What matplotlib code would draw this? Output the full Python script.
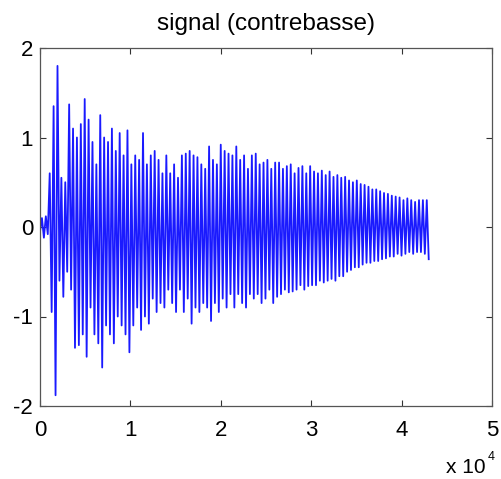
import numpy as np
import matplotlib
matplotlib.use("Agg")
import matplotlib.pyplot as plt

plt.rcParams['font.family'] = ['Liberation Sans', 'DejaVu Sans']

title = "signal (contrebasse)"
sample_step = 215  # samples between successive extrema
amplitude = [
    -0.05, 0.10, -0.12, 0.12, -0.08, 0.60, -0.95, 1.35, -1.88, 1.80,
    -0.60, 0.55, -0.78, 0.50, -0.50, 1.37, -0.70, 1.10, -1.35, 1.00,
    -1.32, 1.15, -1.20, 1.43, -1.45, 1.20, -0.90, 0.95, -1.20, 0.70,
    -1.30, 1.25, -1.57, 1.00, -1.10, 0.95, -1.20, 1.10, -1.30, 0.85,
    -1.00, 1.05, -1.10, 0.80, -1.20, 1.08, -1.40, 0.70, -1.10, 0.80,
    -0.90, 0.75, -1.15, 1.05, -1.00, 0.70, -1.08, 0.80, -0.80, 0.85,
    -0.95, 0.75, -0.85, 0.60, -0.90, 0.80, -0.70, 0.60, -0.85, 0.70,
    -0.95, 0.55, -0.70, 0.80, -0.95, 0.82, -0.80, 0.85, -1.08, 0.80,
    -0.90, 0.78, -0.95, 0.70, -0.85, 0.65, -0.90, 0.90, -1.05, 0.75,
    -0.85, 0.70, -0.95, 0.92, -0.80, 0.85, -0.90, 0.82, -0.75, 0.80,
    -0.90, 0.90, -0.75, 0.75, -0.85, 0.80, -0.90, 0.65, -0.75, 0.80,
    -0.80, 0.82, -0.75, 0.70, -0.85, 0.72, -0.80, 0.75, -0.70, 0.65,
    -0.85, 0.72, -0.78, 0.72, -0.75, 0.65, -0.70, 0.68, -0.73, 0.70,
    -0.72, 0.60, -0.70, 0.66, -0.65, 0.68, -0.70, 0.60, -0.66, 0.68,
    -0.65, 0.62, -0.65, 0.60, -0.60, 0.63, -0.62, 0.58, -0.60, 0.62,
    -0.58, 0.56, -0.60, 0.58, -0.55, 0.55, -0.55, 0.56, -0.50, 0.52,
    -0.48, 0.50, -0.45, 0.52, -0.45, 0.48, -0.42, 0.47, -0.40, 0.45,
    -0.40, 0.42, -0.38, 0.42, -0.38, 0.40, -0.36, 0.38, -0.35, 0.37,
    -0.33, 0.35, -0.33, 0.34, -0.30, 0.33, -0.32, 0.30, -0.30, 0.32,
    -0.28, 0.30, -0.30, 0.28, -0.28, 0.30, -0.28, 0.30, -0.30, 0.30,
    -0.36,
]
x_ticks = [0, 10000, 20000, 30000, 40000, 50000]
x_tick_labels = ["0", "1", "2", "3", "4", "5"]
y_ticks = [-2, -1, 0, 1, 2]
y_tick_labels = ["-2", "-1", "0", "1", "2"]

samples = np.arange(len(amplitude)) * sample_step

W, H = 502, 479
fig = plt.figure(figsize=(W / 100, H / 100), dpi=100)
ax = fig.add_axes([40 / W, 1 - 406 / H, 452 / W, 358 / H])
ax.plot(samples, amplitude, color=(0.1, 0.1, 1.0), lw=1.3)
ax.set_xlim(0, 50000)
ax.set_ylim(-2, 2)
ax.set_xticks(x_ticks)
ax.set_xticklabels(x_tick_labels)
ax.set_yticks(y_ticks)
ax.set_yticklabels(y_tick_labels)
ax.tick_params(direction='in', top=True, right=True, length=4, width=0.8,
               labelsize=16, colors='#333333', labelcolor='black')
ax.tick_params(axis='x', pad=10)
ax.tick_params(axis='y', pad=5)
for s in ax.spines.values():
    s.set_color('#555555')
    s.set_linewidth(0.9)
ax.set_title(title, fontsize=17.5, pad=13)
fig.text(486 / W, 1 - 473 / H, "x 10", ha='right', va='baseline', fontsize=15)
fig.text(487.5 / W, 1 - 460 / H, "4", ha='left', va='baseline', fontsize=9)
fig.savefig("out.png", dpi=100)
